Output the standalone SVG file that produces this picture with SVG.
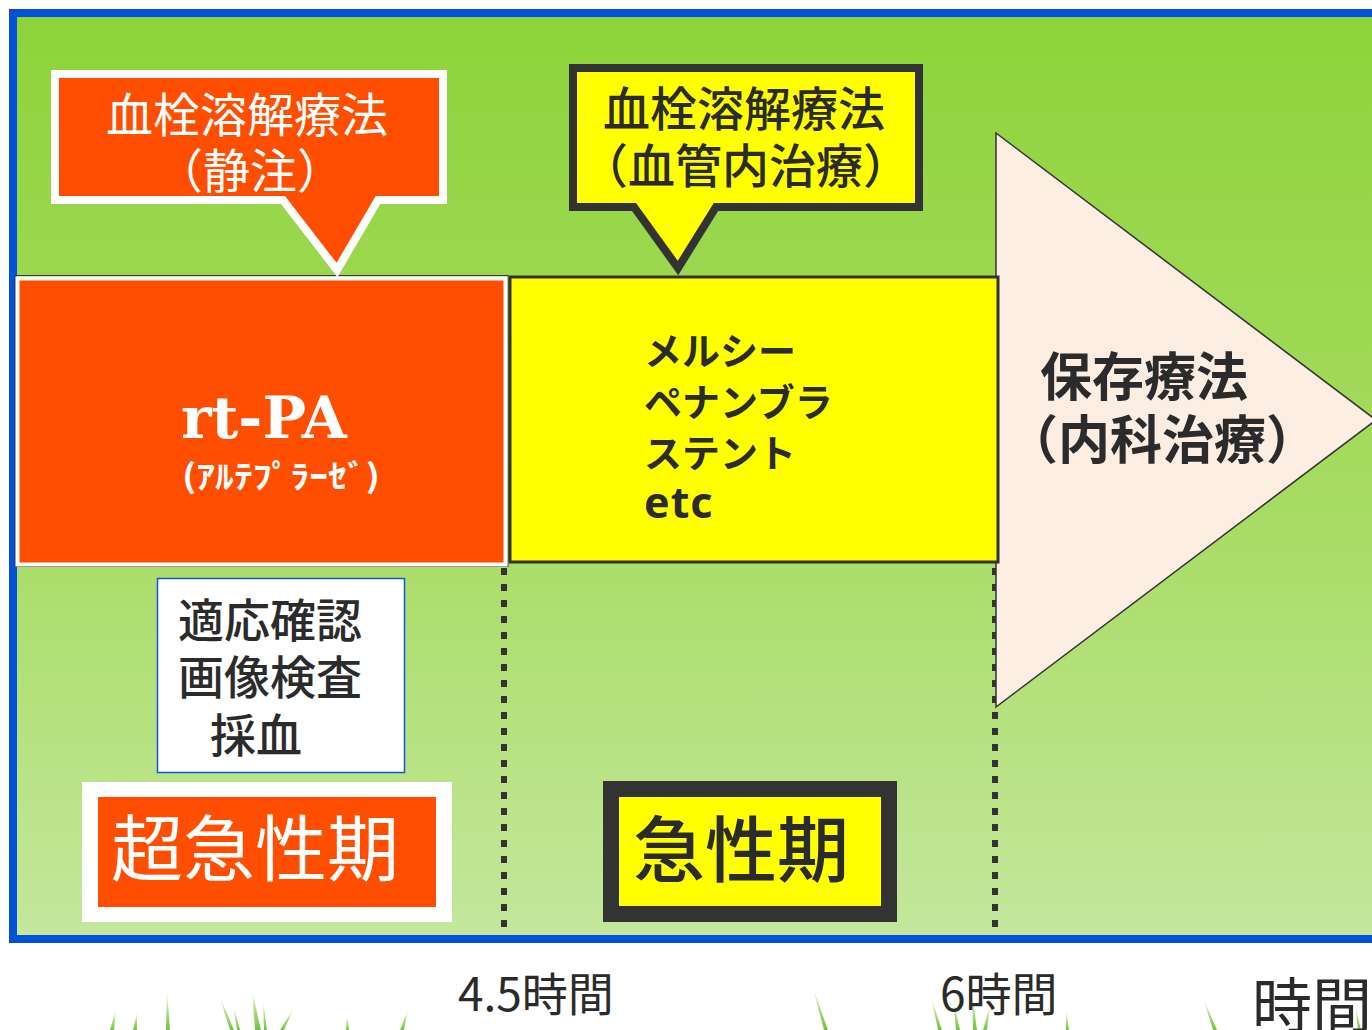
<svg xmlns="http://www.w3.org/2000/svg" width="1372" height="1030" viewBox="0 0 1372 1030">
  <defs>
    <linearGradient id="field" x1="0" y1="0" x2="0" y2="1">
      <stop offset="0" stop-color="#8DD33A"/>
      <stop offset="0.5" stop-color="#A5DB5E"/>
      <stop offset="1" stop-color="#C4E79D"/>
    </linearGradient>
    <linearGradient id="blade" x1="0" y1="0" x2="0" y2="1">
      <stop offset="0" stop-color="#B6DE72" stop-opacity="0.1"/>
      <stop offset="0.5" stop-color="#7CC43A" stop-opacity="0.6"/>
      <stop offset="1" stop-color="#5FB327" stop-opacity="0.85"/>
    </linearGradient>
    <style>
      .jp { font-family: "Noto Sans CJK JP", "Noto Sans", sans-serif; }
      .dark { fill: #2B2B2B; }
      .white { fill: #FFFFFF; }
      .divider { stroke: #333333; stroke-width: 6; stroke-dasharray: 7 9; fill: none; }
      .blade { fill: url(#blade); }
    </style>
  </defs>

  <rect x="0" y="0" width="1372" height="1030" fill="#FFFFFF"/>

  <!-- field with blue frame -->
  <rect x="13" y="13" width="1380" height="926" fill="url(#field)" stroke="#0251D6" stroke-width="8"/>

  <!-- grass along the bottom edge -->
  <g id="grass">
    <polygon class="blade" points="110,1030 116,1010 114,1030"/>
    <polygon class="blade" points="133,1030 137,1012 137,1030"/>
    <polygon class="blade" points="166,1030 167,990 170,1030"/>
    <polygon class="blade" points="230,1030 219,995 234,1030"/>
    <polygon class="blade" points="237,1030 233,1005 240,1030"/>
    <polygon class="blade" points="255,1030 252,990 261,1030"/>
    <polygon class="blade" points="264,1030 263,1000 267,1030"/>
    <polygon class="blade" points="280,1030 294,1008 284,1030"/>
    <polygon class="blade" points="346,1030 347,1015 349,1030"/>
    <polygon class="blade" points="400,1030 408,1010 404,1030"/>
    <polygon class="blade" points="824,1030 812,985 828,1030"/>
    <polygon class="blade" points="938,1030 931,997 942,1030"/>
    <polygon class="blade" points="956,1030 953,1000 960,1030"/>
    <polygon class="blade" points="973,1030 972,992 977,1030"/>
    <polygon class="blade" points="983,1030 990,1005 987,1030"/>
    <polygon class="blade" points="1066,1030 1066,1010 1069,1030"/>
    <polygon class="blade" points="1213,1030 1203,998 1217,1030"/>
    <polygon class="blade" points="1358,1030 1355,1005 1361,1030"/>
  </g>

  <!-- time dividers -->
  <g id="connectors">
    <line class="divider" x1="504" y1="568" x2="504" y2="935"/>
    <line class="divider" x1="995" y1="568" x2="995" y2="935"/>
  </g>

  <!-- conservative therapy arrow -->
  <g id="conservative">
    <polygon points="996,133 1376,420 996,707" fill="#FDEEE3" stroke="#333333" stroke-width="1.5"/>
    <text class="jp dark" font-size="52" font-weight="700"><tspan x="1040" y="396">保存療法</tspan><tspan x="1006" y="459">（内科治療）</tspan></text>
  </g>

  <!-- rt-PA block -->
  <g id="rtpa">
    <rect x="15" y="275.5" width="493" height="291" fill="none" stroke="#3A3A3A" stroke-width="1"/>
    <rect x="17.5" y="278.5" width="488" height="286" fill="#FF4E00" stroke="#FFFFFF" stroke-width="4"/>
    <text x="181" y="438" font-family="DejaVu Serif, Liberation Serif, serif" font-size="58" font-weight="700" class="white">rt-PA</text>
    <text class="jp white" x="182" y="488" font-size="32" font-weight="700" textLength="198" lengthAdjust="spacingAndGlyphs">(ｱﾙﾃﾌﾟﾗｰｾﾞ)</text>
  </g>

  <!-- endovascular block -->
  <g id="endovascular">
    <rect x="510" y="277" width="488" height="285" fill="#FFFF00" stroke="#333333" stroke-width="3"/>
    <text class="jp dark" font-size="38" font-weight="700"><tspan x="644" y="365">メルシー</tspan><tspan x="644" y="416">ペナンブラ</tspan><tspan x="644" y="467">ステント</tspan></text>
    <text class="dark" x="644" y="518" font-family="Noto Sans, sans-serif" font-size="43" font-weight="700" letter-spacing="1">etc</text>
  </g>

  <!-- intravenous thrombolysis callout -->
  <g id="callout-iv">
    <path d="M55,74 H443 V200 H378 L337,270 L283,200 H55 Z" fill="#FF4E00" stroke="#FFFFFF" stroke-width="8"/>
    <text class="jp white" font-size="47"><tspan x="106" y="132">血栓溶解療法</tspan><tspan x="156" y="188">（静注）</tspan></text>
  </g>

  <!-- endovascular thrombolysis callout -->
  <g id="callout-ev">
    <path d="M573,68 H919 V207 H716 L678,268 L634,207 H573 Z" fill="#FFFF00" stroke="#333333" stroke-width="8"/>
    <text class="jp dark" font-size="47" font-weight="500"><tspan x="603" y="126">血栓溶解療法</tspan><tspan x="581" y="183">（血管内治療）</tspan></text>
  </g>

  <!-- checklist -->
  <g id="checks">
    <rect x="157.5" y="578.5" width="247" height="194" fill="#FFFFFF" stroke="#1155DD" stroke-width="1.5"/>
    <text class="jp dark" font-size="46" font-weight="500"><tspan x="178" y="637">適応確認</tspan><tspan x="178" y="694">画像検査</tspan><tspan x="210" y="752">採血</tspan></text>
  </g>

  <!-- hyperacute label -->
  <g id="hyperacute">
    <rect x="82" y="782" width="370" height="140" fill="#FFFFFF"/>
    <rect x="98" y="797" width="338" height="110" fill="#FF4E00"/>
    <text class="jp white" x="111" y="875" font-size="72">超急性期</text>
  </g>

  <!-- acute label -->
  <g id="acute">
    <rect x="611" y="789" width="278" height="125" fill="#FFFF00" stroke="#333333" stroke-width="16"/>
    <text class="jp dark" x="633" y="876" font-size="72" font-weight="500">急性期</text>
  </g>

  <!-- time axis -->
  <g id="axis">
    <text class="jp dark" x="458" y="1011" font-size="46">4.5時間</text>
    <text class="jp dark" x="940" y="1011" font-size="46">6時間</text>
    <text class="jp dark" x="1252" y="1028" font-size="60">時間</text>
  </g>
</svg>
